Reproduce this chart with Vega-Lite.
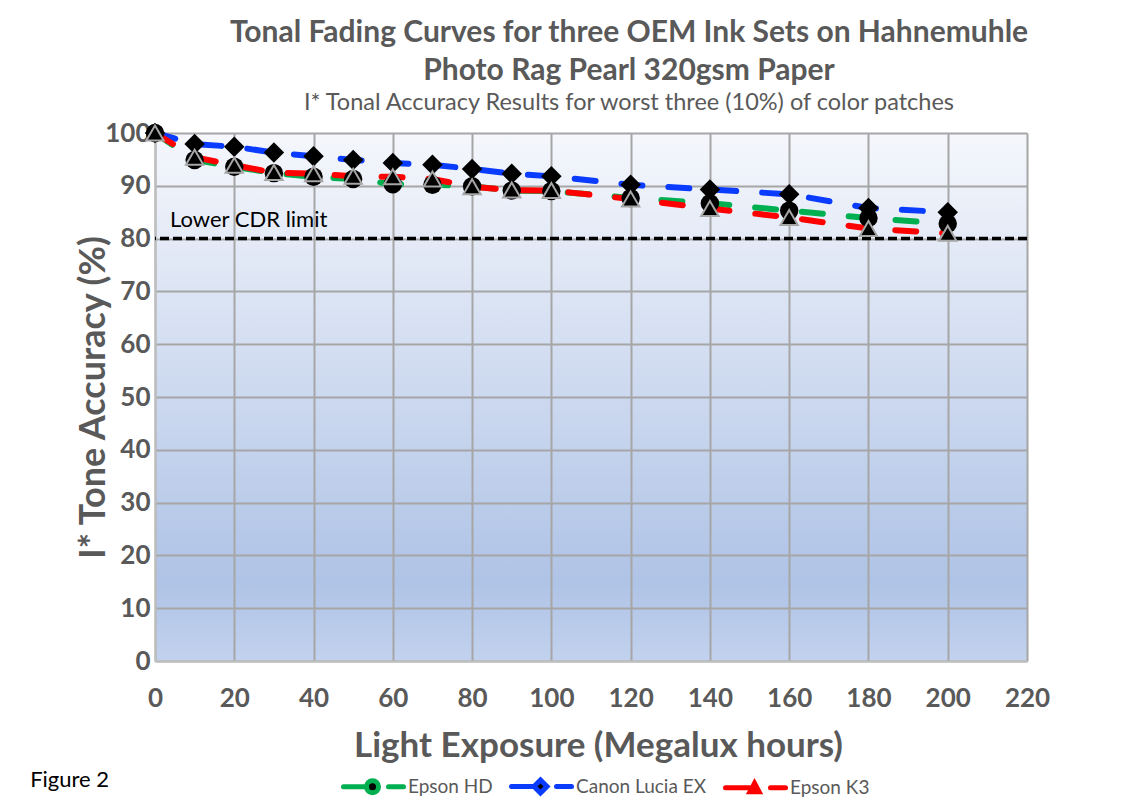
{
  "$schema": "https://vega.github.io/schema/vega-lite/v6.json",
  "width": 872,
  "height": 528,
  "autosize": "none",
  "padding": {"left": 155, "top": 133, "right": 119, "bottom": 147},
  "background": "white",
  "config": {
    "font": "Lato, sans-serif",
    "view": {
      "stroke": null,
      "fill": {"gradient": "linear", "x1": 0, "y1": 0, "x2": 0, "y2": 1,
        "stops": [{"offset": 0, "color": "#F5F7FC"}, {"offset": 0.85, "color": "#AFC3E6"}, {"offset": 1, "color": "#C2D2EE"}]}
    },
    "axis": {
      "gridColor": "#A6A6A6", "gridWidth": 2,
      "domainColor": "#BFBFBF", "domainWidth": 2,
      "ticks": false,
      "labelFlush": false,
      "labelFont": "Lato, sans-serif",
      "labelFontSize": 26, "labelFontWeight": "bold", "labelColor": "#595959",
      "titleFont": "Lato, sans-serif",
      "titleFontWeight": "bold", "titleColor": "#595959"
    }
  },
  "title": {
    "text": ["Tonal Fading Curves for three OEM Ink Sets on Hahnemuhle", "Photo Rag Pearl 320gsm Paper"],
    "subtitle": "I* Tonal Accuracy Results for worst three (10%) of color patches",
    "anchor": "middle",
    "frame": "group",
    "dx": 38,
    "offset": 6,
    "font": "Lato, sans-serif",
    "fontSize": 30,
    "fontWeight": "bold",
    "color": "#595959",
    "lineHeight": 38,
    "subtitleFont": "Lato, sans-serif",
    "subtitleFontSize": 23.5,
    "subtitleColor": "#595959",
    "subtitlePadding": 5
  },
  "datasets": {
    "tone": [
      {"series": "Epson HD", "exposure": 0, "accuracy": 100},
      {"series": "Epson HD", "exposure": 10, "accuracy": 94.9},
      {"series": "Epson HD", "exposure": 20, "accuracy": 93.6},
      {"series": "Epson HD", "exposure": 30, "accuracy": 92.4},
      {"series": "Epson HD", "exposure": 40, "accuracy": 91.7},
      {"series": "Epson HD", "exposure": 50, "accuracy": 91.3},
      {"series": "Epson HD", "exposure": 60, "accuracy": 90.3},
      {"series": "Epson HD", "exposure": 70, "accuracy": 90.2},
      {"series": "Epson HD", "exposure": 80, "accuracy": 89.9},
      {"series": "Epson HD", "exposure": 90, "accuracy": 89.1},
      {"series": "Epson HD", "exposure": 100, "accuracy": 89.0},
      {"series": "Epson HD", "exposure": 120, "accuracy": 87.7},
      {"series": "Epson HD", "exposure": 140, "accuracy": 86.7},
      {"series": "Epson HD", "exposure": 160, "accuracy": 85.3},
      {"series": "Epson HD", "exposure": 180, "accuracy": 83.9},
      {"series": "Epson HD", "exposure": 200, "accuracy": 82.8},
      {"series": "Canon Lucia EX", "exposure": 0, "accuracy": 100},
      {"series": "Canon Lucia EX", "exposure": 10, "accuracy": 97.9},
      {"series": "Canon Lucia EX", "exposure": 20, "accuracy": 97.4},
      {"series": "Canon Lucia EX", "exposure": 30, "accuracy": 96.3},
      {"series": "Canon Lucia EX", "exposure": 40, "accuracy": 95.6},
      {"series": "Canon Lucia EX", "exposure": 50, "accuracy": 94.9},
      {"series": "Canon Lucia EX", "exposure": 60, "accuracy": 94.3},
      {"series": "Canon Lucia EX", "exposure": 70, "accuracy": 94.0},
      {"series": "Canon Lucia EX", "exposure": 80, "accuracy": 93.2},
      {"series": "Canon Lucia EX", "exposure": 90, "accuracy": 92.3},
      {"series": "Canon Lucia EX", "exposure": 100, "accuracy": 91.8},
      {"series": "Canon Lucia EX", "exposure": 120, "accuracy": 90.2},
      {"series": "Canon Lucia EX", "exposure": 140, "accuracy": 89.3},
      {"series": "Canon Lucia EX", "exposure": 160, "accuracy": 88.4},
      {"series": "Canon Lucia EX", "exposure": 180, "accuracy": 85.8},
      {"series": "Canon Lucia EX", "exposure": 200, "accuracy": 85.0},
      {"series": "Epson K3", "exposure": 0, "accuracy": 100},
      {"series": "Epson K3", "exposure": 10, "accuracy": 95.4},
      {"series": "Epson K3", "exposure": 20, "accuracy": 93.9},
      {"series": "Epson K3", "exposure": 30, "accuracy": 92.5},
      {"series": "Epson K3", "exposure": 40, "accuracy": 92.3},
      {"series": "Epson K3", "exposure": 50, "accuracy": 91.8},
      {"series": "Epson K3", "exposure": 60, "accuracy": 91.7},
      {"series": "Epson K3", "exposure": 70, "accuracy": 91.3},
      {"series": "Epson K3", "exposure": 80, "accuracy": 89.8},
      {"series": "Epson K3", "exposure": 90, "accuracy": 89.2},
      {"series": "Epson K3", "exposure": 100, "accuracy": 89.1},
      {"series": "Epson K3", "exposure": 120, "accuracy": 87.5},
      {"series": "Epson K3", "exposure": 140, "accuracy": 85.7},
      {"series": "Epson K3", "exposure": 160, "accuracy": 84.0},
      {"series": "Epson K3", "exposure": 180, "accuracy": 81.9},
      {"series": "Epson K3", "exposure": 200, "accuracy": 81.0}
    ],
    "limit": [{"accuracy": 80, "label": "Lower CDR limit", "labelX": 3.8, "labelY": 83.6}],
    "note": [{"label": "Figure 2", "x": -31.5, "y": -22.5}]
  },
  "layer": [
    {
      "data": {"name": "limit"},
      "mark": {"type": "rule", "color": "black", "strokeWidth": 3.5, "strokeDash": [9, 4]},
      "encoding": {
        "y": {"field": "accuracy", "type": "quantitative", "scale": {"domain": [0, 100], "nice": false},
          "axis": {"values": [0, 10, 20, 30, 40, 50, 60, 70, 80, 90, 100], "labelPadding": 5,
            "title": "I* Tone  Accuracy (%)", "titleFontSize": 36, "titleX": -62, "titleY": 264, "titleBaseline": "middle", "titleAlign": "center", "titleAngle": -90}}
      }
    },
    {
      "data": {"name": "limit"},
      "mark": {"type": "text", "align": "left", "baseline": "middle", "fontSize": 22, "color": "black", "font": "Lato, sans-serif"},
      "encoding": {
        "x": {"field": "labelX", "type": "quantitative"},
        "y": {"field": "labelY", "type": "quantitative"},
        "text": {"field": "label"}
      }
    },
    {
      "data": {"name": "tone"},
      "mark": {"type": "line", "strokeWidth": 6, "strokeDash": [21, 26], "strokeCap": "round"},
      "encoding": {
        "x": {"field": "exposure", "type": "quantitative", "scale": {"domain": [0, 220], "nice": false},
          "axis": {"values": [0, 20, 40, 60, 80, 100, 120, 140, 160, 180, 200, 220], "labelPadding": 24,
            "title": "Light Exposure (Megalux  hours)", "titleFontSize": 35, "titleX": 443, "titleY": 84, "titleBaseline": "middle", "titleAlign": "center"}},
        "y": {"field": "accuracy", "type": "quantitative"},
        "color": {
          "field": "series", "type": "nominal",
          "scale": {"domain": ["Epson HD", "Canon Lucia EX", "Epson K3"], "range": ["#00B050", "#0A3CFF", "#FF0000"]},
          "legend": {
            "orient": "none", "legendX": 208, "legendY": 644, "direction": "horizontal",
            "title": null, "symbolSize": 100, "labelOffset": 26, "columnPadding": 8,
            "labelFontSize": 19, "labelColor": "#595959", "labelFont": "Lato, sans-serif",
            "symbolDash": [], "symbolStrokeWidth": 5,
            "encode": {
              "symbols": {
                "update": {
                  "shape": {"signal": "datum.value === 'Epson HD' ? 'M-5.8,0H-1.2 M1.2,0A1.2,1.2 0 1,1 -1.2,0A1.2,1.2 0 1,1 1.2,0 M3.2,0H6.2' : datum.value === 'Canon Lucia EX' ? 'M-5.8,0H-1.3 M0,-1.3L1.3,0L0,1.3L-1.3,0Z M3.2,0H6.2' : 'M-5.8,0H-1 M0,-0.9L0.9,0.8L-0.9,0.8Z M3.2,0H6.2'"},
                  "fill": {"value": "black"},
                  "strokeDash": {"value": []},
                  "strokeCap": {"value": "round"},
                  "strokeWidth": {"value": 5},
                  "opacity": {"value": 1}
                }
              }
            }
          }
        }
      }
    },
    {
      "data": {"name": "tone"},
      "transform": [{"filter": "datum.series === 'Epson HD'"}],
      "mark": {"type": "point", "shape": "circle", "filled": true, "color": "black", "size": 340, "opacity": 1},
      "encoding": {
        "x": {"field": "exposure", "type": "quantitative"},
        "y": {"field": "accuracy", "type": "quantitative"}
      }
    },
    {
      "data": {"name": "tone"},
      "transform": [{"filter": "datum.series === 'Canon Lucia EX'"}],
      "mark": {"type": "point", "shape": "diamond", "filled": true, "color": "black", "size": 420, "opacity": 1},
      "encoding": {
        "x": {"field": "exposure", "type": "quantitative"},
        "y": {"field": "accuracy", "type": "quantitative"}
      }
    },
    {
      "data": {"name": "tone"},
      "transform": [{"filter": "datum.series === 'Epson K3'"}],
      "mark": {"type": "point", "shape": "triangle-up", "filled": true, "fill": "black", "stroke": "#A6A6A6", "strokeWidth": 2, "size": 300, "opacity": 1},
      "encoding": {
        "x": {"field": "exposure", "type": "quantitative"},
        "y": {"field": "accuracy", "type": "quantitative"}
      }
    },
    {
      "data": {"name": "note"},
      "mark": {"type": "text", "align": "left", "baseline": "middle", "fontSize": 22, "color": "black", "font": "Lato, sans-serif"},
      "encoding": {
        "x": {"field": "x", "type": "quantitative"},
        "y": {"field": "y", "type": "quantitative"},
        "text": {"field": "label"}
      }
    }
  ]
}
